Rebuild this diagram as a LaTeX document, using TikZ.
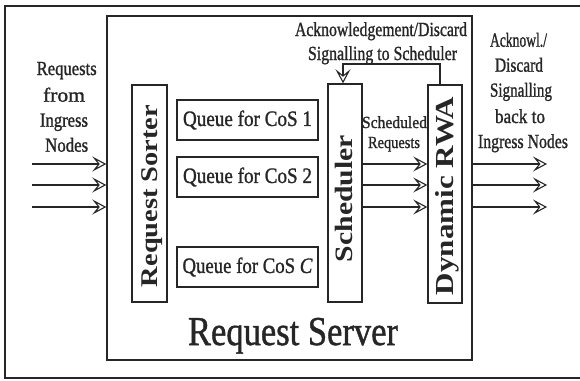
\documentclass[tikz,border=0pt]{standalone}
\usepackage{fontspec}
\setmainfont{Liberation Serif}
\newfontfamily\heavy{Liberation Serif}[FakeBold=1.2]
\usetikzlibrary{arrows.meta}
\definecolor{ink}{gray}{0.15}
\newcommand\fitw[2]{\resizebox{#1pt}{\height}{#2}}
\tikzset{
  box/.style={draw=ink, line width=1.4pt, inner sep=0pt},
  lbl/.style={inner sep=0pt, anchor=base, text=ink, font=\heavy\fontsize{20}{24}\selectfont},
  vlbl/.style={inner sep=0pt, anchor=base, rotate=90, text=ink},
  qtext/.style={text=ink, font=\heavy\fontsize{22}{24}\selectfont},
  arr/.style={draw=ink, line width=1.4pt,
    -{Stealth[open, length=14pt, width=15pt, inset=6pt, line width=1.1pt]}},
}
\begin{document}
\begin{tikzpicture}[x=1pt, y=-1pt]
\useasboundingbox (0,0) rectangle (580,380);
\fill[white] (0,0) rectangle (580,380);
% outer frame
\draw[draw=ink, line width=1.2pt] (5,6) rectangle (586,378);
% request server box
\node[box, minimum width=365pt, minimum height=344pt] (server) at (289.5,188) {};
% inner boxes
\node[box, minimum width=35pt, minimum height=217pt] (sorter) at (149.5,193.5) {};
\node[box, minimum width=34pt, minimum height=218pt] (sched) at (345,193) {};
\node[box, minimum width=34pt, minimum height=218pt] (rwa) at (445,194) {};
\node[box, qtext, minimum width=141pt, minimum height=40pt] (q1) at (247.5,120) {\fitw{129}{Queue for CoS 1}};
\node[box, qtext, minimum width=141pt, minimum height=40pt] (q2) at (247.5,177) {\fitw{129}{Queue for CoS 2}};
\node[box, qtext, minimum width=141pt, minimum height=40pt] (qc) at (247.5,267) {\fitw{130}{Queue for CoS \textit{C}}};
% vertical labels
\node[vlbl, font=\bfseries\fontsize{24}{26}\selectfont] (tsorter) at (157,196) {\fitw{182}{Request Sorter}};
\node[vlbl, font=\bfseries\fontsize{25}{27}\selectfont] (tsched) at (352,198.5) {\fitw{127}{Scheduler}};
\node[vlbl, font=\bfseries\fontsize{26}{28}\selectfont] (trwa) at (453,196) {\fitw{198}{Dynamic RWA}};
% left text
\node[lbl] (l1) at (66.7,75) {\fitw{60}{Requests}};
\node[lbl] (l2) at (64,101.7) {\fitw{42}{from}};
\node[lbl] (l3) at (64,126.7) {\fitw{48}{Ingress}};
\node[lbl] (l4) at (66.7,151.7) {\fitw{43}{Nodes}};
% top text
\node[lbl] (a1) at (381,36) {\fitw{172}{Acknowledgement/Discard}};
\node[lbl] (a2) at (382.5,60) {\fitw{149}{Signalling to Scheduler}};
% scheduled requests
\node[lbl, font=\heavy\fontsize{17}{20}\selectfont] (s1) at (394.5,128) {\fitw{65}{Scheduled}};
\node[lbl, font=\heavy\fontsize{17}{20}\selectfont] (s2) at (394,148) {\fitw{52}{Requests}};
% right text
\node[lbl] (r1) at (518.5,46.7) {\fitw{57}{Acknowl./}};
\node[lbl] (r2) at (519,71.7) {\fitw{48}{Discard}};
\node[lbl] (r3) at (521,96.7) {\fitw{62}{Signalling}};
\node[lbl] (r4) at (520,123) {\fitw{50}{back to}};
\node[lbl] (r5) at (523,148) {\fitw{90}{Ingress Nodes}};
% server title
\node[lbl, font=\heavy\fontsize{41}{44}\selectfont] (title) at (293,345) {\fitw{210}{Request Server}};
% coordinates for arrows
\coordinate (in1) at (32,164);
\coordinate (in2) at (32,185);
\coordinate (in3) at (32,207);
\coordinate (out1) at (547,164);
\coordinate (out2) at (547,185);
\coordinate (out3) at (547,207);
\coordinate (fbR) at (440,64);
\coordinate (fbL) at (343,64);
% input arrows
\draw[arr] (in1) -- (in1 -| server.west);
\draw[arr] (in2) -- (in2 -| server.west);
\draw[arr] (in3) -- (in3 -| server.west);
% scheduler to RWA
\draw[arr] (sched.east |- in1) -- (rwa.west |- in1);
\draw[arr] (sched.east |- in2) -- (rwa.west |- in2);
\draw[arr] (sched.east |- in3) -- (rwa.west |- in3);
% output arrows
\draw[arr] (server.east |- out1) -- (out1);
\draw[arr] (server.east |- out2) -- (out2);
\draw[arr] (server.east |- out3) -- (out3);
% feedback
\draw[arr] (rwa.north -| fbR) -- (fbR) -- (fbL) -- (sched.north -| fbL);
\end{tikzpicture}
\end{document}
